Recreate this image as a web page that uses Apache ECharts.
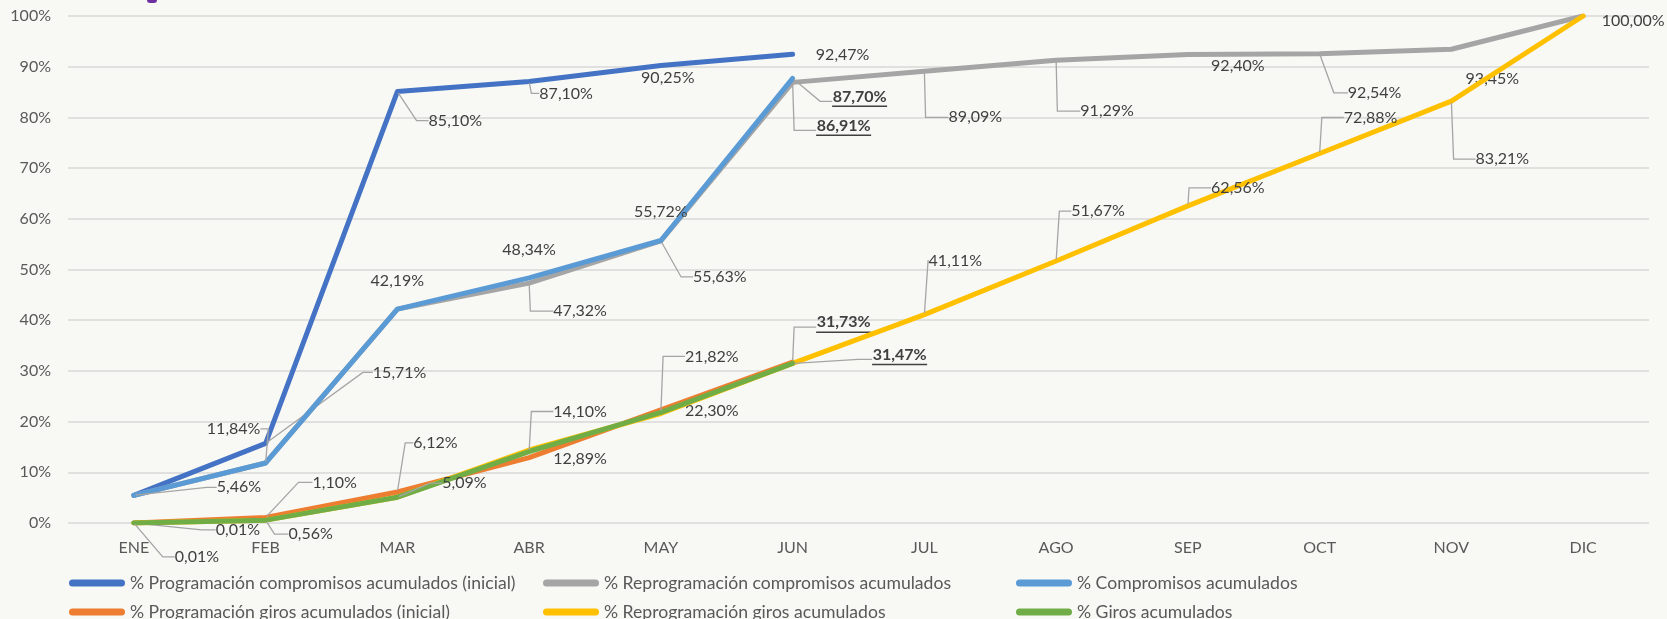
<!DOCTYPE html>
<html><head><meta charset="utf-8">
<script src="https://cdn.jsdelivr.net/npm/echarts@6/dist/echarts.min.js"></script>
<style>html,body{margin:0;padding:0;background:#F8F8F4}#c{width:1667px;height:619px}</style>
</head><body><div id="c"></div><script>
// ---- data ----
const months = ['ENE','FEB','MAR','ABR','MAY','JUN','JUL','AGO','SEP','OCT','NOV','DIC'];
const seriesNames = [
  '% Programación compromisos acumulados (inicial)',
  '% Reprogramación compromisos acumulados',
  '% Compromisos acumulados',
  '% Programación giros acumulados (inicial)',
  '% Reprogramación giros acumulados',
  '% Giros acumulados'
];
const progCompromisosIni = [5.46, 15.71, 85.10, 87.10, 90.25, 92.47, null, null, null, null, null, null];
const reprogCompromisos  = [5.46, 11.84, 42.19, 47.32, 55.63, 86.91, 89.09, 91.29, 92.40, 92.54, 93.45, 100.00];
const compromisos        = [5.46, 11.84, 42.19, 48.34, 55.72, 87.70, null, null, null, null, null, null];
const progGirosIni       = [0.01, 1.10, 6.12, 12.89, 22.30, 31.73, null, null, null, null, null, null];
const reprogGiros        = [0.01, 0.56, 5.09, 14.40, 21.60, 31.47, 41.11, 51.67, 62.56, 72.88, 83.21, 100.00];
const giros              = [0.01, 0.56, 5.09, 14.10, 21.82, 31.47, null, null, null, null, null, null];

// ---- label placement (offset from point: dx, dy, leader, stub length, bold) ----
const labelPlacement = [
  {1:[134,-71,1,10], 2:[58,29,1,12], 3:[37,12,1,8], 4:[7,12,0], 5:[50,1,0]},
  {3:[51,28,1,23], 4:[59,36,1,12], 5:[51,44,1,22,1], 6:[51,46,1,23], 7:[51,51,1,23], 8:[50,11.5,0], 9:[55,39,1,14], 10:[41,30,0], 11:[50,4.5,0]},
  {0:[105,-8,1,10], 1:[-32,-34,1,8], 2:[0,-28,0], 3:[0,-28,0], 4:[0,-29,0], 5:[67,19,1,12,1]},
  {0:[104,7,1,14], 1:[69,-35,1,14], 2:[38,-49,1,8], 3:[51,1,0], 4:[51,1,0], 5:[51,-39,1,22,1]},
  {6:[31,-54,1,0.5], 7:[42,-50,1,12], 8:[50,-18,1,22], 9:[51,-36,1,22], 10:[51,58,1,22]},
  {0:[63,34,1,12], 1:[45,14,1,14], 2:[67,-14,1,12], 3:[51,-40,1,22], 4:[51,-56,1,22], 5:[107,-8,1,14,1]}
];
const colors = ['#4472C4','#A5A5A5','#5B9BD5','#ED7D31','#FFC000','#70AD47'];
const allValues = [progCompromisosIni, reprogCompromisos, compromisos, progGirosIni, reprogGiros, giros];

const fmt = v => v.toFixed(2).replace('.', ',') + '%';
const FONT = 'Lato';

function buildData(values, placement) {
  return values.map((v, i) => {
    const p = placement[i];
    if (v == null) return {value: null};
    if (!p) return {value: v, label: {show: false}, labelLine: {show: false}};
    return {
      value: v,
      label: {
        show: true,
        offset: [p[0], p[1]],
        formatter: p[4] ? ('{b|' + fmt(v) + '}\n{u|}') : fmt(v)
      },
      labelLine: {show: !!p[2], length2: p[3] || 10}
    };
  });
}

const series = allValues.map((vals, k) => ({
  name: seriesNames[k],
  type: 'line',
  data: buildData(vals, labelPlacement[k]),
  color: colors[k],
  symbol: 'circle',
  symbolSize: 3,
  showSymbol: true,
  showAllSymbol: true,
  connectNulls: false,
  itemStyle: {color: colors[k]},
  lineStyle: {width: 5, color: colors[k], cap: 'round', join: 'round'},
  emphasis: {disabled: true},
  label: {
    show: false,
    position: 'inside',
    align: 'center',
    verticalAlign: 'middle',
    fontFamily: FONT, fontSize: 16, color: '#404040',
    rich: {
      b: {fontFamily: FONT, fontSize: 16, fontWeight: 'bold', color: '#404040', lineHeight: 18, align: 'center'},
      u: {width: 55, height: 1.5, backgroundColor: '#404040', lineHeight: 2, align: 'center'}
    }
  },
  labelLine: {show: true, smooth: false, lineStyle: {color: '#A5A5A5', width: 1.3}},
  z: 2 + k
}));

const capsule = 'path://M3.5,0 H52.5 A3.5,3.5 0 0 1 52.5,7 H3.5 A3.5,3.5 0 0 1 3.5,0 Z';
const legendCols = [69, 543, 1016];
const legendRows = [574, 603];
const legends = seriesNames.map((n, k) => ({
  data: [n],
  left: legendCols[k % 3],
  top: legendRows[Math.floor(k / 3)],
  icon: capsule,
  itemWidth: 56, itemHeight: 7,
  selectedMode: false,
  padding: 0,
  textStyle: {fontFamily: FONT, fontSize: 17.6, color: '#595959'}
}));

const chart = echarts.init(document.getElementById('c'), null, {renderer: 'canvas'});
chart.setOption({
  backgroundColor: '#F8F8F4',
  animation: false,
  grid: {left: 68, right: 18, top: 16, bottom: 96, containLabel: false, outerBoundsMode: 'none'},
  xAxis: {
    type: 'category', data: months, boundaryGap: true,
    axisLine: {show: false}, axisTick: {show: false},
    axisLabel: {fontFamily: FONT, fontSize: 16, color: '#595959', margin: 17}
  },
  yAxis: {
    type: 'value', min: 0, max: 100, interval: 10,
    axisLine: {show: false}, axisTick: {show: false},
    axisLabel: {formatter: '{value}%', fontFamily: FONT, fontSize: 16, color: '#595959', margin: 17},
    splitLine: {lineStyle: {color: '#D9D9D9', width: 1.5}}
  },
  // fragment of a cut-off title at the very top edge
  graphic: [{type: 'rect', left: 147, top: -3, shape: {width: 10, height: 6, r: 3}, style: {fill: '#7030A0'}}],
  legend: legends,
  series: series
});
</script></body></html>
